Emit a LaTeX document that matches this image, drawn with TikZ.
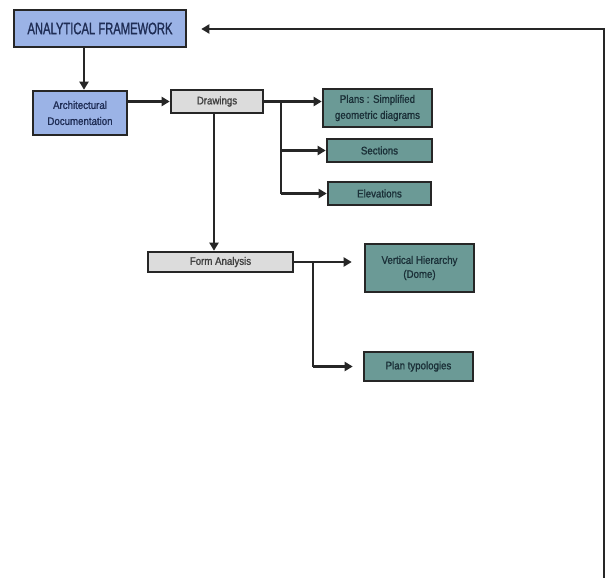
\documentclass[tikz,border=0pt]{standalone}
\usepackage{fontspec}
\setmainfont{Liberation Sans}
\newfontfamily\cond[FakeStretch=0.88,FakeBold=1.2]{Liberation Sans}
\newfontfamily\titlefont[FakeStretch=0.68,FakeBold=1.2]{Liberation Sans}
\usetikzlibrary{arrows.meta}
\definecolor{boxblue}{HTML}{9BB3E6}
\definecolor{boxgrey}{HTML}{DCDCDC}
\definecolor{boxteal}{HTML}{6B9A96}
\definecolor{edge}{HTML}{262626}
\definecolor{inkblue}{HTML}{1F2D55}
\definecolor{inkteal}{HTML}{1B3038}
\tikzset{
  base/.style={draw=edge, line width=2.6pt, inner sep=0pt, align=center, font=\cond\fontsize{11}{16}\selectfont},
  bluebox/.style={base, fill=boxblue, text=inkblue},
  greybox/.style={base, fill=boxgrey, text=black!75},
  tealbox/.style={base, fill=boxteal, text=inkteal},
  link/.style={draw=edge, line width=2.4pt, -{Triangle[length=8pt,width=9pt]}},
  plain/.style={draw=edge, line width=2.4pt}
}
\begin{document}
\begin{tikzpicture}[x=1pt,y=-1pt]
\useasboundingbox (0,0) rectangle (606,578);

% main boxes
\node[bluebox, minimum width=172pt, minimum height=37pt, font=\titlefont\fontsize{16.5}{18}\selectfont] (af) at (100,28.5) {ANALYTICAL FRAMEWORK};
\node[bluebox, minimum width=94pt, minimum height=44pt] (doc) at (80,113) {Architectural\\Documentation};
\node[greybox, minimum width=92pt, minimum height=23pt] (draw) at (217,101.5) {Drawings};
\node[greybox, minimum width=145pt, minimum height=20pt] (form) at (220.5,262) {Form Analysis};

% drawing outputs
\node[tealbox, minimum width=109pt, minimum height=38pt] (plans) at (377.5,108) {Plans : Simplified\\geometric diagrams};
\node[tealbox, minimum width=105pt, minimum height=23pt] (sect) at (379.5,150.5) {Sections};
\node[tealbox, minimum width=103pt, minimum height=23pt] (elev) at (379.5,193.5) {Elevations};

% form analysis outputs
\node[tealbox, minimum width=109pt, minimum height=48pt, font=\cond\fontsize{11}{14}\selectfont] (vh) at (419.5,268) {Vertical Hierarchy\\(Dome)};
\node[tealbox, minimum width=109pt, minimum height=29pt] (pt) at (418.5,366.5) {Plan typologies};

% branch points and return path
\coordinate (dj) at (281,101.5);
\coordinate (fj) at (313,262);
\coordinate (rb) at (604,578);
\coordinate (rt) at (604,29);

% connectors
\draw[link] (af.south -| 84,0) -- (doc.north -| 84,0);
\draw[link] (doc.east |- draw) -- (draw.west);
\draw[plain] (draw.east) -- (dj);
\draw[plain] (dj) -- (dj |- elev);
\draw[link] (dj) -- (dj -| plans.west);
\draw[link] (dj |- sect) -- (sect.west);
\draw[link] (dj |- elev) -- (elev.west);
\draw[link] (draw.south -| 214,0) -- (form.north -| 214,0);
\draw[plain] (form.east) -- (fj);
\draw[plain] (fj) -- (fj |- pt);
\draw[link] (fj) -- ([xshift=-12pt]fj -| vh.west);
\draw[link] (fj |- pt) -- ([xshift=-10pt]pt.west);
\draw[link] (rb) -- (rt) -- ([xshift=14pt]af.east |- rt);
\end{tikzpicture}
\end{document}
